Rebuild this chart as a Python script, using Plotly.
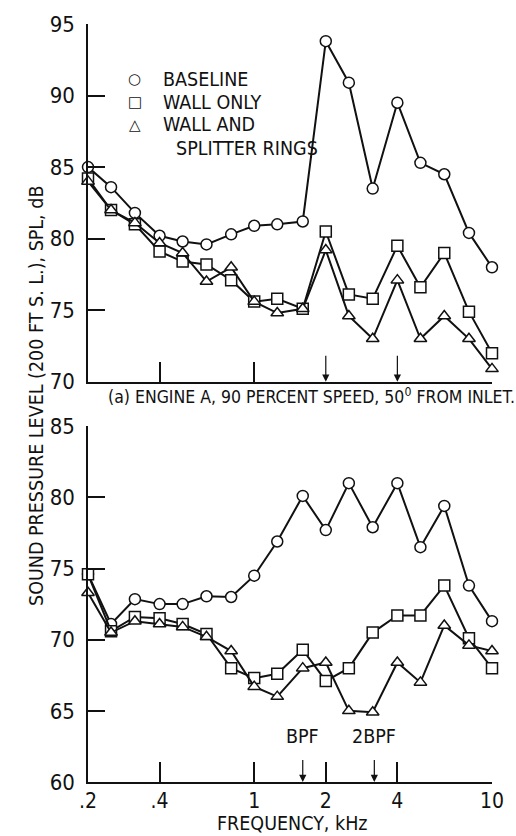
import math
import plotly.graph_objects as go

freq = [0.2, 0.25, 0.315, 0.4, 0.5, 0.63, 0.8, 1.0, 1.25, 1.6, 2.0, 2.5, 3.15, 4.0, 5.0, 6.3, 8.0, 10.0]

# (a) Engine A, 90 percent speed, 50 deg from inlet
a_baseline = [85.0, 83.6, 81.8, 80.2, 79.8, 79.6, 80.3, 80.9, 81.0, 81.2, 93.8, 90.9, 83.5, 89.5, 85.3, 84.5, 80.4, 78.0]
a_wall = [84.2, 82.0, 81.0, 79.1, 78.4, 78.2, 77.1, 75.6, 75.8, 75.1, 80.5, 76.1, 75.8, 79.5, 76.6, 79.0, 74.9, 72.0]
a_splitter = [84.0, 82.0, 81.1, 79.7, 79.0, 77.0, 78.0, 75.6, 74.8, 75.1, 79.2, 74.6, 73.0, 77.1, 73.0, 74.6, 73.0, 70.9]

# lower panel
b_baseline = [74.6, 71.1, 72.85, 72.5, 72.5, 73.05, 73.0, 74.5, 76.9, 80.1, 77.7, 81.0, 77.9, 81.0, 76.5, 79.4, 73.8, 71.3]
b_wall = [74.6, 70.6, 71.6, 71.5, 71.1, 70.4, 68.0, 67.3, 67.6, 69.3, 67.1, 68.0, 70.5, 71.7, 71.7, 73.8, 70.1, 68.0]
b_splitter = [73.3, 70.5, 71.3, 71.1, 70.9, 70.2, 69.2, 66.7, 66.0, 68.0, 68.4, 65.0, 64.9, 68.4, 67.0, 71.0, 69.6, 69.2]

top_arrows = [2.0, 4.0]
bot_arrows = [1.6, 3.2]
bot_arrow_labels = ["BPF", "2BPF"]

x_tickvals = [0.2, 0.4, 1, 2, 4, 10]
x_ticktext = [".2", ".4", "1", "2", "4", "10"]
top_yticks = [70, 75, 80, 85, 90, 95]
bot_yticks = [60, 65, 70, 75, 80, 85]

legend_names = ["BASELINE", "WALL ONLY", "WALL AND", "SPLITTER RINGS"]
legend_glyphs = ["\u25cb", "\u25a1", "\u25b3", ""]

FONT = "Liberation Sans Narrow, DejaVu Sans Condensed, Arial Narrow, sans-serif"
BLACK = "#111111"
symbols = ["circle", "square", "triangle-up"]

W, H = 516, 836
L, R, T, B = 88, 21, 15, 54
PW, PH = W - L - R, H - T - B


def px(xp):
    return (xp - L) / PW


def py(yp):
    return (H - B - yp) / PH


fig = go.Figure()


def add_series(xa, ya, ys):
    for y, sym in zip(ys, symbols):
        fig.add_trace(go.Scatter(
            x=freq, y=y, xaxis=xa, yaxis=ya, mode="lines+markers",
            line=dict(color=BLACK, width=2),
            marker=dict(symbol=sym, size=11, color="white", line=dict(color=BLACK, width=1.5)),
            showlegend=False, cliponaxis=False))


add_series("x", "y", [a_baseline, a_wall, a_splitter])
add_series("x2", "y2", [b_baseline, b_wall, b_splitter])

top_dom = [py(377), 1.0]
bot_dom = [0.0, py(422)]

axis_common = dict(showline=True, linecolor=BLACK, linewidth=1.5, showgrid=False, zeroline=False,
                   ticks="inside", tickcolor=BLACK, tickwidth=1.5, mirror=False,
                   tickfont=dict(family=FONT, size=22, color=BLACK))

xr = [math.log10(0.2), math.log10(10)]
fig.update_layout(
    width=W, height=H,
    margin=dict(l=L, r=R, t=T, b=B),
    paper_bgcolor="white", plot_bgcolor="white",
    showlegend=False,
    xaxis=dict(axis_common, type="log", range=xr, domain=[0, 1], anchor="y",
               tickvals=[0.4, 1, 10], showticklabels=False, ticklen=20),
    yaxis=dict(axis_common, range=[70, 95], domain=top_dom, anchor="x",
               tickvals=top_yticks, ticklen=17, ticklabelstandoff=7),
    xaxis2=dict(axis_common, type="log", range=xr, domain=[0, 1], anchor="y2",
                tickvals=x_tickvals, ticktext=x_ticktext, ticklen=20, ticklabelstandoff=-1,
                tickfont=dict(family=FONT, size=21, color=BLACK)),
    yaxis2=dict(axis_common, range=[60, 85], domain=bot_dom, anchor="x2",
                tickvals=bot_yticks, ticklen=17, ticklabelstandoff=7),
)

ann_font = dict(family=FONT, size=19.5, color=BLACK)

# legend drawn as text
leg_rows = [71, 94, 117, 141]
leg_text_x = [162, 162, 162, 175]
for g, nm, yy, tx in zip(legend_glyphs, legend_names, leg_rows, leg_text_x):
    if g:
        fig.add_annotation(x=px(135), y=py(yy), xref="paper", yref="paper", showarrow=False,
                           text=g, font=dict(family="DejaVu Sans", size=15, color=BLACK),
                           xanchor="center", yanchor="middle")
    fig.add_annotation(x=px(tx), y=py(yy), xref="paper", yref="paper", showarrow=False,
                       text=nm, font=ann_font, xanchor="left", yanchor="middle")

for f in top_arrows:
    fig.add_annotation(x=math.log10(f), y=70, xref="x", yref="y", ax=0, ay=-36, showarrow=True,
                       arrowhead=2, arrowsize=1.2, arrowwidth=1.2, arrowcolor=BLACK, text=" ")
for f, lab in zip(bot_arrows, bot_arrow_labels):
    fig.add_annotation(x=math.log10(f), y=60, xref="x2", yref="y2", ax=0, ay=-32, showarrow=True,
                       arrowhead=2, arrowsize=1.2, arrowwidth=1.2, arrowcolor=BLACK, text=" ")
    fig.add_annotation(x=math.log10(f), y=63.2, xref="x2", yref="y2", showarrow=False,
                       text=lab, font=ann_font, yanchor="middle")

fig.add_annotation(x=px(106), y=py(391), xref="paper", yref="paper", showarrow=False,
                   text="(a) ENGINE A, 90 PERCENT SPEED, 50<sup>0</sup> FROM INLET.",
                   font=dict(family=FONT, size=17.5, color=BLACK), xanchor="left", yanchor="middle")
fig.add_annotation(x=px(36), y=py(391), xref="paper", yref="paper", showarrow=False,
                   text="SOUND PRESSURE LEVEL (200 FT S. L.), SPL, dB", textangle=-90,
                   font=ann_font, xanchor="center", yanchor="middle")
fig.add_annotation(x=px(294), y=py(824), xref="paper", yref="paper", showarrow=False,
                   text="FREQUENCY, kHz", font=ann_font, xanchor="center", yanchor="middle")

fig.write_html("out.html")
